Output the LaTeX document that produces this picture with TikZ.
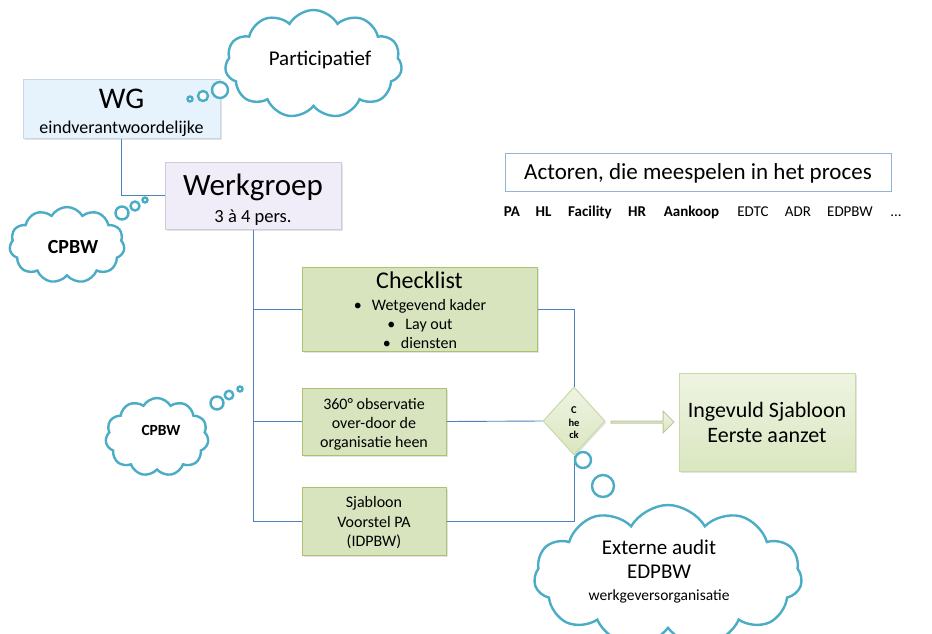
\documentclass[tikz,border=0pt]{standalone}
\usepackage{fontspec}
\setmainfont{Carlito}
\usetikzlibrary{shapes.symbols,shapes.geometric,shapes.arrows,shadows}
\definecolor{cloudc}{HTML}{4BACC6}
\definecolor{linec}{HTML}{4F81BD}
\definecolor{wgfill}{HTML}{E6F2FC}
\definecolor{wgdraw}{HTML}{C9D6E3}
\definecolor{wkfill}{HTML}{F0ECF8}
\definecolor{wkdraw}{HTML}{CFCBD8}
\definecolor{gfill}{HTML}{D7E4BD}
\definecolor{gdraw}{HTML}{A9C46C}
\definecolor{gtop}{HTML}{EEF4E2}
\definecolor{gbot}{HTML}{DAE6C0}
\definecolor{gdraw2}{HTML}{C9D9A5}
\definecolor{actdraw}{HTML}{95B3D7}
\newcommand{\fsz}[2]{\fontsize{#1}{#2}\selectfont}
\begin{document}
\begin{tikzpicture}[x=1pt,y=-1pt,
  conn/.style={draw=linec, line width=0.9pt},
  thought/.style={cloud, cloud puffs=11, cloud puff arc=120, draw=cloudc, line width=2.4pt, fill=white, inner sep=0pt, cloud ignores aspect},
  bub/.style={circle, draw=cloudc, line width=2.4pt, fill=white, inner sep=0pt},
  box/.style={rectangle, inner sep=0pt, line width=1pt, drop shadow={opacity=0.22, shadow xshift=1.5pt, shadow yshift=-1.5pt}},
  gbox/.style={box, fill=gfill, draw=gdraw},
  txt/.style={anchor=base, inner sep=0pt},
]
\useasboundingbox (0,0) rectangle (932,633);

% ---- boxes ----
\node[box, fill=wgfill, draw=wgdraw, minimum width=197pt, minimum height=59pt] (wg) at (121.5,108.5) {};
\node[box, fill=wkfill, draw=wkdraw, minimum width=176pt, minimum height=67pt] (wk) at (253,195.5) {};
\node[gbox, minimum width=235pt, minimum height=84pt] (chk) at (419.5,309) {};
\node[gbox, minimum width=144pt, minimum height=67pt] (obs) at (374,421.5) {};
\node[gbox, minimum width=144pt, minimum height=68pt] (sjb) at (374,521) {};
\node[box, top color=gtop, bottom color=gbot, draw=gdraw2, minimum width=176pt, minimum height=98pt] (ing) at (767,422) {};
\node[rectangle, draw=actdraw, fill=white, line width=1pt, minimum width=386pt, minimum height=38pt] (act) at (698,172) {};
\node[diamond, top color=gtop, bottom color=gbot, draw=gdraw2, line width=1pt, minimum width=62pt, minimum height=68pt, aspect=0.91, inner sep=0pt, drop shadow={opacity=0.22, shadow xshift=1.5pt, shadow yshift=-1.5pt}] (dia) at (574,421) {};
\node[single arrow, single arrow head extend=5pt, single arrow head indent=0pt, minimum height=63pt, minimum width=22pt, inner sep=0pt, top color=gtop, bottom color=gbot, draw=gdraw2!80!gray, line width=1pt] (arr) at (642,422) {};

% ---- connectors ----
\draw[conn] (wg.south) |- (wk.west);
\draw[conn] (wk.south) |- (chk.west);
\draw[conn] (wk.south) |- (obs.west);
\draw[conn] (wk.south) |- (sjb.west);
\draw[conn] (chk.east) -| (dia.north);
\draw[conn] (obs.east) -- (dia.west);
\draw[conn] (sjb.east) -| (dia.south);

% ---- box texts ----
\node[txt, font=\fsz{30}{36}] (wgt) at (121.5,108) {WG};
\node[txt, font=\fsz{18}{22}] (wgs) at (121.5,133) {eindverantwoordelijke};
\node[txt, font=\fsz{31}{37}] (wkt) at (253,195) {Werkgroep};
\node[txt, font=\fsz{18.5}{22}] (wks) at (253,222) {3 à 4 pers.};
\node[txt, font=\fsz{24}{28}] (chkt) at (419.5,288) {Checklist};
\node[txt, font=\fsz{16}{19}] (chk1) at (420,310) {\textbullet\hspace{10pt}Wetgevend kader};
\node[txt, font=\fsz{16}{19}] (chk2) at (420,329) {\textbullet\hspace{10pt}Lay out};
\node[txt, font=\fsz{16}{19}] (chk3) at (420,348) {\textbullet\hspace{10pt}diensten};
\node[txt, font=\fsz{16}{19}] (obs1) at (374,409) {360° observatie};
\node[txt, font=\fsz{16}{19}] (obs2) at (374,428) {over-door de};
\node[txt, font=\fsz{16}{19}] (obs3) at (374,447) {organisatie heen};
\node[txt, font=\fsz{16}{19}] (sjb1) at (374,507) {Sjabloon};
\node[txt, font=\fsz{16}{19}] (sjb2) at (374,527) {Voorstel PA};
\node[txt, font=\fsz{16}{19}] (sjb3) at (374,546) {(IDPBW)};
\node[txt, font=\fsz{22}{26}] (ing1) at (767,417) {Ingevuld Sjabloon};
\node[txt, font=\fsz{22}{26}] (ing2) at (767,442) {Eerste aanzet};
\node[txt, font=\bfseries\fsz{10.5}{12}] (dia1) at (574,413) {C};
\node[txt, font=\bfseries\fsz{10.5}{12}] (dia2) at (574,426) {he};
\node[txt, font=\bfseries\fsz{10.5}{12}] (dia3) at (574,438) {ck};

% ---- actors ----
\node[txt, font=\fsz{23}{27}] (actt) at (698,179) {Actoren, die meespelen in het proces};
\node[txt, font=\bfseries\fsz{15}{18}] (a1) at (512,216) {PA};
\node[txt, font=\bfseries\fsz{15}{18}] (a2) at (543.5,216) {HL};
\node[txt, font=\bfseries\fsz{15}{18}] (a3) at (590,216) {Facility};
\node[txt, font=\bfseries\fsz{15}{18}] (a4) at (637,216) {HR};
\node[txt, font=\bfseries\fsz{15}{18}] (a5) at (691.5,216) {Aankoop};
\node[txt, font=\fsz{15}{18}] (a6) at (753,216) {EDTC};
\node[txt, font=\fsz{15}{18}] (a7) at (798,216) {ADR};
\node[txt, font=\fsz{15}{18}] (a8) at (850,216) {EDPBW};
\node[txt, font=\fsz{15}{18}] (a9) at (896,216) {...};

% ---- thought clouds ----
\node[thought, minimum width=177pt, minimum height=108pt] (cp) at (313.5,64) {};
\node[bub, minimum size=16pt] (cp1) at (220,90) {};
\node[bub, minimum size=10pt] (cp2) at (203,96) {};
\node[bub, minimum size=5pt] (cp3) at (190,99) {};
\node[txt, font=\fsz{21}{25}] (cpt) at (320,65) {Participatief};

\node[thought, minimum width=115pt, minimum height=76pt] (cb1) at (67,245) {};
\node[bub, minimum size=13pt] (cb11) at (122,213) {};
\node[bub, minimum size=9pt] (cb12) at (135,206) {};
\node[bub, minimum size=5pt] (cb13) at (145,200) {};
\node[txt, font=\bfseries\fsz{20}{24}] (cb1t) at (73,253) {CPBW};

\node[thought, minimum width=103pt, minimum height=78pt] (cb2) at (157,437) {};
\node[bub, minimum size=13pt] (cb21) at (217,403) {};
\node[bub, minimum size=8.5pt] (cb22) at (229,395) {};
\node[bub, minimum size=5pt] (cb23) at (240,389) {};
\node[txt, font=\bfseries\fsz{15.5}{19}] (cb2t) at (161,435) {CPBW};

\node[thought, minimum width=268pt, minimum height=142pt] (ea) at (668,576) {};
\node[bub, minimum size=16pt] (ea1) at (583,460) {};
\node[bub, minimum size=22pt] (ea2) at (603,486) {};
\node[txt, font=\fsz{21}{25}] (ea1t) at (659,554) {Externe audit};
\node[txt, font=\fsz{21}{25}] (ea2t) at (659,578) {EDPBW};
\node[txt, font=\fsz{15.5}{19}] (ea3t) at (659,600) {werkgeversorganisatie};
\end{tikzpicture}
\end{document}
